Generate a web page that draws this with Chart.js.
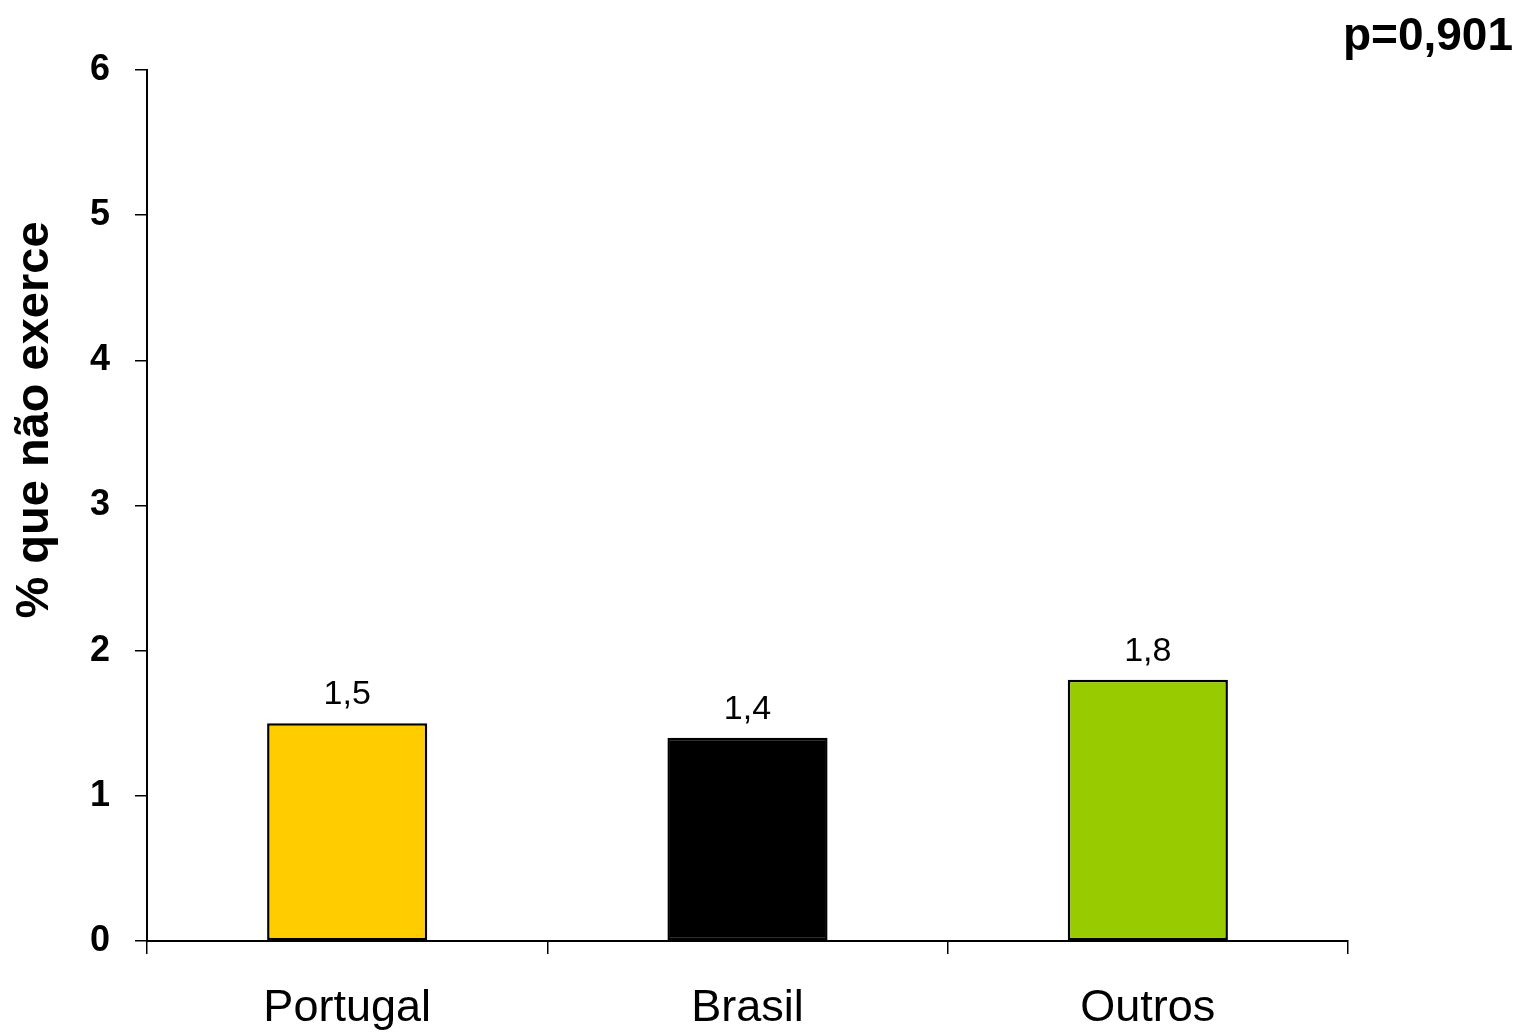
<!DOCTYPE html>
<html><head><meta charset="utf-8">
<script src="https://cdn.jsdelivr.net/npm/chart.js@4"></script>
<style>html,body{margin:0;padding:0;background:#fff;}#wrap{width:1516px;height:1033px;}</style>
</head><body><div id="wrap"><canvas id="c" width="1516" height="1033"></canvas></div>
<script>
const categories = ["Portugal", "Brasil", "Outros"];
const values = [1.5, 1.4, 1.8];
const valueLabels = ["1,5", "1,4", "1,8"];
const barColors = ["#FFCC00", "#000000", "#99CC00"];
const yTicks = [0, 1, 2, 3, 4, 5, 6];
const yTitle = "% que não exerce";
const pText = "p=0,901";
const FONT = "'Liberation Sans', Arial, sans-serif";

const annot = {
  id: 'annot',
  afterDatasetsDraw(chart) {
    const ctx = chart.ctx;
    const meta = chart.getDatasetMeta(0);
    ctx.save();
    ctx.fillStyle = '#000';
    ctx.font = "34px " + FONT;
    ctx.textAlign = 'center';
    ctx.textBaseline = 'alphabetic';
    meta.data.forEach((bar, i) => {
      ctx.fillText(valueLabels[i], bar.x, bar.y - 19);
    });
    ctx.font = "bold 46px " + FONT;
    ctx.textAlign = 'right';
    ctx.textBaseline = 'middle';
    ctx.fillText(pText, 1513, 37);
    ctx.font = "bold 47px " + FONT;
    ctx.translate(35, 420);
    ctx.rotate(-Math.PI / 2);
    ctx.textAlign = 'center';
    ctx.fillText(yTitle, 0, 0);
    ctx.restore();
  }
};

new Chart(document.getElementById('c'), {
  type: 'bar',
  data: {
    labels: categories,
    datasets: [{
      data: values,
      backgroundColor: barColors,
      borderColor: '#000',
      borderWidth: 2.5,
      borderSkipped: false,
      categoryPercentage: 0.4,
      barPercentage: 1.0
    }]
  },
  options: {
    responsive: false,
    animation: false,
    layout: { padding: { top: 70, right: 168, left: 0, bottom: 0 } },
    plugins: { legend: { display: false }, tooltip: { enabled: false }, title: { display: false } },
    scales: {
      x: {
        grid: { display: true, drawOnChartArea: false, drawTicks: true, tickLength: 13, color: '#000', lineWidth: 1.5, offset: true },
        border: { display: true, color: '#000', width: 2 },
        ticks: { color: '#000', font: { family: FONT, size: 45 }, padding: 28 },
        afterFit(s) { s.height = 92; }
      },
      y: {
        min: 0, max: 6,
        afterBuildTicks(s) { s.ticks = yTicks.map(v => ({ value: v })); },
        grid: { display: true, drawOnChartArea: false, drawTicks: true, tickLength: 12, color: '#000', lineWidth: 1.5 },
        border: { display: true, color: '#000', width: 2 },
        ticks: { color: '#000', font: { family: FONT, size: 36, weight: 'bold' }, padding: 25, callback: v => String(v) },
        afterFit(s) { s.width = 147; }
      }
    }
  },
  plugins: [annot]
});
</script></body></html>
